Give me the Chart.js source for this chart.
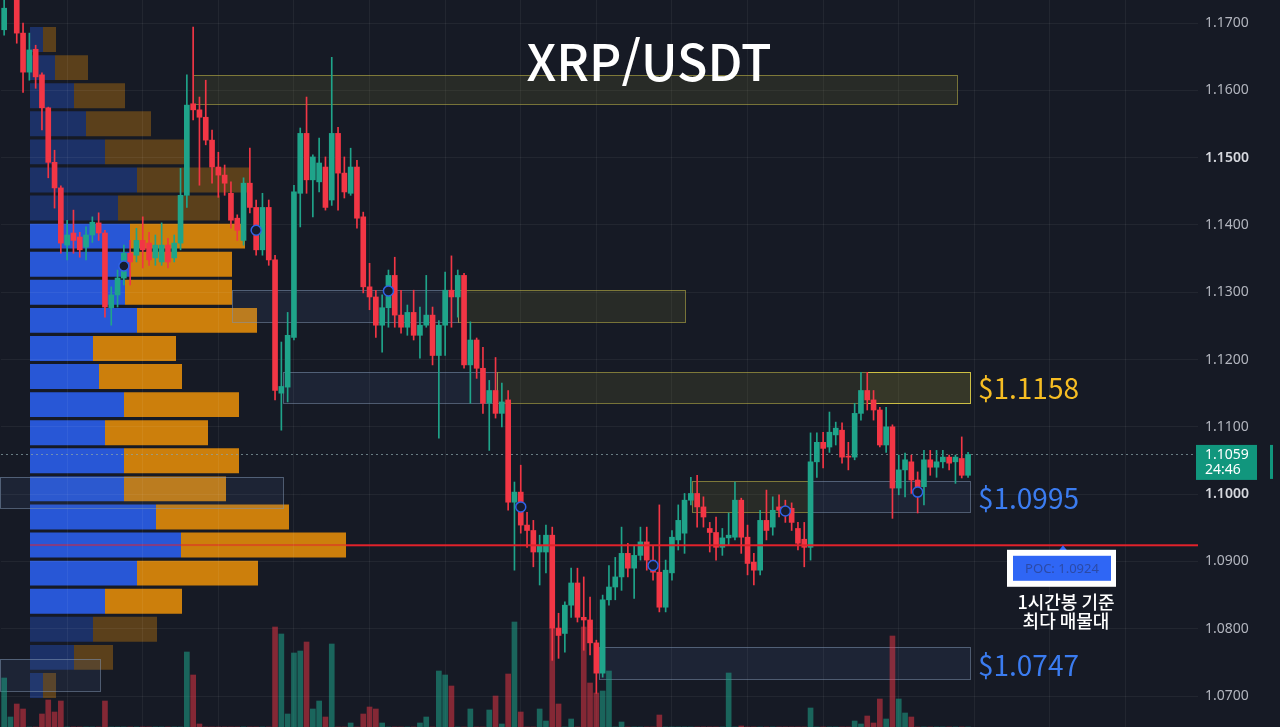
<!DOCTYPE html>
<html lang="ko">
<head>
<meta charset="UTF-8">
<title>XRP/USDT 1시간봉</title>
<script src="https://cdn.jsdelivr.net/npm/chart.js@4.4.1/dist/chart.umd.min.js"></script>
<style>
    html, body { margin: 0; padding: 0; background: #161a25; overflow: hidden; }
    #wrap { position: relative; width: 1280px; height: 727px; }
    #wrap canvas { position: absolute; left: 0; top: 0; }
</style>
</head>
<body>
<div id="wrap">
    <canvas id="profile-chart" width="1280" height="727"></canvas>
    <canvas id="price-chart" width="1280" height="727"></canvas>
</div>
<script>
// --- 캔들 (1시간봉) ---
const opens = [
    1.1690, 1.1741, 1.1741, 1.1685, 1.1627, 1.1661, 1.1623, 1.1574, 1.1493, 1.1455,
    1.1370, 1.1388, 1.1382, 1.1367, 1.1385, 1.1403, 1.1388, 1.1277, 1.1296, 1.1321,
    1.1358, 1.1355, 1.1377, 1.1373, 1.1351, 1.1345, 1.1370, 1.1351, 1.1373, 1.1444,
    1.1580, 1.1571, 1.1560, 1.1526, 1.1486, 1.1474, 1.1447, 1.1410, 1.1377, 1.1462,
    1.1426, 1.1363, 1.1426, 1.1348, 1.1150, 1.1159, 1.1233, 1.1447, 1.1536, 1.1467,
    1.1464, 1.1486, 1.1437, 1.1536, 1.1477, 1.1447, 1.1486, 1.1412, 1.1308, 1.1293,
    1.1251, 1.1277, 1.1325, 1.1266, 1.1248, 1.1270, 1.1236, 1.1251, 1.1266, 1.1206,
    1.1251, 1.1303, 1.1293, 1.1325, 1.1192, 1.1229, 1.1187, 1.1135, 1.1154, 1.1120,
    1.1140, 1.0988, 1.1003, 1.0954, 1.0946, 1.0914, 1.0914, 1.0939, 1.0801, 1.0793,
    1.0835, 1.0868, 1.0817, 1.0813, 1.0779, 1.0734, 1.0843, 1.0862, 1.0877, 1.0912,
    1.0890, 1.0909, 1.0929, 1.0902, 1.0884, 1.0832, 1.0883, 1.0932, 1.0942, 1.0991,
    1.1001, 1.0981, 1.0949, 1.0943, 1.0921, 1.0935, 1.0936, 1.0991, 1.0936, 1.0899,
    1.0887, 1.0961, 1.0951, 1.0981, 1.0979, 1.0979, 1.0949, 1.0933, 1.0921, 1.1048,
    1.1077, 1.1070, 1.1088, 1.1095, 1.1056, 1.1055, 1.1120, 1.1154, 1.1140, 1.1125,
    1.1073, 1.1100, 1.1009, 1.1036, 1.1048, 1.1021, 1.1011, 1.1051, 1.1040, 1.1048,
    1.1055, 1.1048, 1.1053, 1.1028
];
const highs = [
    1.1741, 1.1764, 1.1756, 1.1700, 1.1685, 1.1667, 1.1626, 1.1575, 1.1511, 1.1458,
    1.1407, 1.1422, 1.1389, 1.1397, 1.1412, 1.1418, 1.1392, 1.1308, 1.1333, 1.1370,
    1.1377, 1.1395, 1.1412, 1.1389, 1.1385, 1.1403, 1.1380, 1.1385, 1.1484, 1.1623,
    1.1694, 1.1590, 1.1615, 1.1541, 1.1508, 1.1489, 1.1464, 1.1415, 1.1470, 1.1514,
    1.1437, 1.1447, 1.1437, 1.1355, 1.1226, 1.1270, 1.1459, 1.1544, 1.1590, 1.1504,
    1.1529, 1.1501, 1.1649, 1.1545, 1.1501, 1.1514, 1.1496, 1.1419, 1.1343, 1.1303,
    1.1296, 1.1333, 1.1352, 1.1303, 1.1281, 1.1303, 1.1278, 1.1325, 1.1278, 1.1258,
    1.1330, 1.1354, 1.1333, 1.1328, 1.1256, 1.1232, 1.1218, 1.1169, 1.1203, 1.1165,
    1.1154, 1.1018, 1.1043, 1.0973, 1.0961, 1.0939, 1.0954, 1.0951, 1.0823, 1.0840,
    1.0890, 1.0890, 1.0877, 1.0847, 1.0783, 1.0850, 1.0894, 1.0906, 1.0951, 1.0927,
    1.0924, 1.0951, 1.0951, 1.0924, 1.0984, 1.0902, 1.0946, 1.0984, 1.1001, 1.1025,
    1.1028, 1.0996, 1.0958, 1.0966, 1.0949, 1.0972, 1.1018, 1.0994, 1.0954, 1.0912,
    1.0976, 1.1006, 1.0996, 1.0999, 1.0991, 1.0987, 1.0958, 1.0958, 1.1091, 1.1091,
    1.1092, 1.1122, 1.1107, 1.1106, 1.1077, 1.1135, 1.1181, 1.1181, 1.1154, 1.1129,
    1.1129, 1.1103, 1.1058, 1.1061, 1.1058, 1.1033, 1.1065, 1.1065, 1.1065, 1.1065,
    1.1058, 1.1058, 1.1085, 1.1062
];
const lows = [
    1.1682, 1.1737, 1.1670, 1.1597, 1.1615, 1.1603, 1.1541, 1.1470, 1.1425, 1.1358,
    1.1348, 1.1358, 1.1352, 1.1348, 1.1374, 1.1377, 1.1263, 1.1251, 1.1278, 1.1311,
    1.1311, 1.1345, 1.1336, 1.1340, 1.1340, 1.1340, 1.1336, 1.1345, 1.1363, 1.1426,
    1.1556, 1.1459, 1.1519, 1.1462, 1.1441, 1.1444, 1.1395, 1.1377, 1.1370, 1.1418,
    1.1355, 1.1355, 1.1340, 1.1140, 1.1095, 1.1137, 1.1229, 1.1397, 1.1447, 1.1412,
    1.1449, 1.1422, 1.1429, 1.1422, 1.1440, 1.1444, 1.1395, 1.1299, 1.1274, 1.1233,
    1.1211, 1.1248, 1.1248, 1.1239, 1.1236, 1.1229, 1.1202, 1.1248, 1.1192, 1.1083,
    1.1206, 1.1248, 1.1263, 1.1187, 1.1135, 1.1172, 1.1120, 1.1065, 1.1113, 1.1100,
    1.0976, 1.0887, 1.0942, 1.0921, 1.0892, 1.0865, 1.0883, 1.0753, 1.0756, 1.0765,
    1.0817, 1.0810, 1.0768, 1.0761, 1.0704, 1.0728, 1.0835, 1.0843, 1.0857, 1.0877,
    1.0845, 1.0902, 1.0887, 1.0872, 1.0825, 1.0825, 1.0872, 1.0917, 1.0912, 1.0984,
    1.0951, 1.0951, 1.0914, 1.0902, 1.0909, 1.0924, 1.0932, 1.0912, 1.0880, 1.0865,
    1.0880, 1.0932, 1.0939, 1.0966, 1.0958, 1.0946, 1.0917, 1.0892, 1.0902, 1.1025,
    1.1039, 1.1062, 1.1073, 1.1046, 1.1036, 1.1051, 1.1110, 1.1125, 1.1110, 1.1070,
    1.1062, 1.0964, 1.0999, 1.0996, 1.1001, 1.0972, 1.0984, 1.1028, 1.1025, 1.1039,
    1.1036, 1.1016, 1.1024, 1.1025
];
const closes = [
    1.1722, 1.1756, 1.1685, 1.1627, 1.1660, 1.1620, 1.1574, 1.1493, 1.1455, 1.1373,
    1.1385, 1.1377, 1.1363, 1.1385, 1.1404, 1.1388, 1.1278, 1.1296, 1.1321, 1.1358,
    1.1345, 1.1377, 1.1363, 1.1348, 1.1370, 1.1370, 1.1345, 1.1373, 1.1444, 1.1578,
    1.1571, 1.1560, 1.1526, 1.1486, 1.1474, 1.1462, 1.1407, 1.1392, 1.1462, 1.1426,
    1.1363, 1.1426, 1.1348, 1.1154, 1.1160, 1.1236, 1.1449, 1.1536, 1.1467, 1.1501,
    1.1492, 1.1426, 1.1536, 1.1477, 1.1449, 1.1486, 1.1410, 1.1308, 1.1293, 1.1251,
    1.1277, 1.1325, 1.1266, 1.1248, 1.1270, 1.1236, 1.1251, 1.1266, 1.1206, 1.1251,
    1.1303, 1.1293, 1.1325, 1.1192, 1.1229, 1.1187, 1.1135, 1.1154, 1.1120, 1.1137,
    1.0988, 1.1003, 1.0954, 1.0946, 1.0914, 1.0924, 1.0939, 1.0801, 1.0790, 1.0835,
    1.0868, 1.0817, 1.0813, 1.0779, 1.0734, 1.0843, 1.0862, 1.0877, 1.0912, 1.0890,
    1.0909, 1.0929, 1.0902, 1.0884, 1.0832, 1.0887, 1.0936, 1.0961, 1.0991, 1.1001,
    1.0981, 1.0966, 1.0943, 1.0921, 1.0935, 1.0939, 1.0991, 1.0936, 1.0897, 1.0887,
    1.0961, 1.0946, 1.0976, 1.0976, 1.0969, 1.0958, 1.0927, 1.0921, 1.1048, 1.1077,
    1.1068, 1.1092, 1.1098, 1.1055, 1.1055, 1.1120, 1.1154, 1.1140, 1.1125, 1.1073,
    1.1100, 1.1009, 1.1036, 1.1051, 1.1021, 1.1003, 1.1051, 1.1040, 1.1048, 1.1055,
    1.1046, 1.1055, 1.1028, 1.1059
];
// 거래량 (백만 XRP, 화면에 보이는 부분만)
const volumes = [
    4.9, 1.0, 2.3, 1.8, 0, 0, 1.3, 2.7, 1.5, 2.6,
    0, 0, 0, 0, 0, 0, 2.6, 0, 0, 0,
    0, 0, 0, 0, 0, 0, 0, 0, 0, 7.5,
    5.2, 0.3, 0, 0, 0, 0, 0, 0, 0, 0,
    0, 0, 0, 10.0, 9.3, 1.3, 7.4, 7.6, 8.5, 1.8,
    2.6, 1.0, 8.3, 0, 0, 0.4, 0, 1.3, 2.0, 1.8,
    0.4, 0, 0, 0, 0, 0, 0.4, 1.0, 0, 5.6,
    5.2, 4.1, 0, 0, 1.8, 0, 0, 1.7, 3.1, 0.3,
    5.3, 10.5, 1.5, 0, 0, 1.8, 0.6, 9.9, 2.3, 0,
    0.8, 0, 10.0, 4.4, 3.4, 3.6, 5.6, 0, 0.5, 0,
    0, 0, 0, 0, 1.2, 0, 0, 0, 0, 0,
    0, 0, 0, 0, 0, 5.4, 0, 0.1, 0, 0,
    0, 0, 0, 0, 0, 0, 0, 0, 1.9, 0,
    0, 0, 0, 0, 0, 0.6, 0.3, 1.1, 0.4, 2.8,
    0.8, 9.1, 2.8, 1.4, 1.0, 0, 0, 0, 0, 0,
    0, 0, 0, 0
];

// --- 매물대 (볼륨 프로파일) ---
const profileLevels = [
    1.1676, 1.1634, 1.1592, 1.1550, 1.1509, 1.1467, 1.1425, 1.1384,
    1.1342, 1.1300, 1.1258, 1.1217, 1.1175, 1.1133, 1.1091, 1.1050,
    1.1008, 1.0966, 1.0924, 1.0883, 1.0841, 1.0799, 1.0758, 1.0716
];
const profileBuy = [
    6.5, 12.5, 22, 28, 37.5, 53.5, 44, 50,
    50, 47.5, 53.5, 31.5, 34.5, 47, 37.5, 47,
    47, 63, 75.5, 53.5, 37.5, 31.5, 22, 6.5
];
const profileSell = [
    6.5, 16.5, 25.5, 32.5, 40, 56.5, 51, 57.5,
    51, 53.5, 60, 41.5, 41.5, 57.5, 51.5, 57.5,
    51, 66.5, 82.5, 60.5, 38.5, 32, 19.5, 6.5
];
const valueAreaHigh = 1.1384;
const valueAreaLow = 1.0841;

// --- 가격 축 ---
const priceTicks = [1.07, 1.08, 1.09, 1.10, 1.11, 1.12, 1.13, 1.14, 1.15, 1.16, 1.17];
const majorTicks = [1.10, 1.15];
const priceMin = 1.0654;
const priceMax = 1.17342;
const totalSlots = 190;

// --- 지지/저항 박스 (캔들 인덱스 구간) ---
const zoneTop =    [1.1623, 1.1303, 1.1303, 1.1181, 1.1181, 1.1181, 1.1025, 1.1019, 1.1019, 1.0773, 1.0755];
const zoneBottom = [1.1580, 1.1256, 1.1256, 1.1135, 1.1135, 1.1135, 1.0979, 1.0973, 1.0973, 1.0725, 1.0707];
const zoneFrom =   [30, 36.2, 72, 44.3, 78.2, 137, -0.7, 109.2, 128.1, 94.4, -0.7];
const zoneTo =     [151.2, 72, 108.1, 78.2, 153.3, 153.3, 44.3, 128.1, 153.3, 153.3, 15.2];
const zoneKind =   ['supply', 'demand', 'supply', 'demand', 'supply', 'strong', 'demand', 'supply', 'demand', 'demand', 'demand'];

const labelPrices = [1.1158, 1.0995, 1.0747];
const labelTexts = ['$1.1158', '$1.0995', '$1.0747'];
const labelKind = ['supply', 'demand', 'demand'];

const markerIdx = [19, 40, 61, 82, 103, 124, 145];
const markerPrice = [1.1339, 1.1392, 1.1302, 1.0981, 1.0894, 1.0975, 1.1003];

const pocPrice = 1.0924;
const countdown = '24:46';

document.addEventListener('DOMContentLoaded', () => {
    const UP = '#1fa48a';
    const DOWN = '#f23645';
    const GRID = 'rgba(255,255,255,0.055)';
    const KR = '"Noto Sans CJK KR", "Noto Sans", sans-serif';

    const isUp = closes.map((c, i) => c >= opens[i]);
    const candleColor = i => (isUp[i] ? UP : DOWN);
    const isMajor = c => !!(c && c.tick) && majorTicks.some(m => Math.abs(c.tick.value - m) < 1e-6);

    // --- 매물대 차트 (뒤쪽 캔버스) ---
    const inValueArea = i => profileLevels[i] <= valueAreaHigh + 1e-9 && profileLevels[i] >= valueAreaLow - 1e-9;
    const totals = profileBuy.map((b, i) => b + profileSell[i]);
    const pocRow = totals.indexOf(Math.max(...totals));

    const pocSegment = {
        id: 'pocSegment',
        afterDatasetsDraw(chart) {
            const { ctx, scales: { x, y } } = chart;
            const yp = y.getPixelForValue(pocRow);
            ctx.save();
            ctx.fillStyle = 'rgba(226,34,43,0.5)';
            ctx.fillRect(x.getPixelForValue(0), yp - 1, x.getPixelForValue(totals[pocRow]) - x.getPixelForValue(0), 2);
            ctx.restore();
        }
    };

    const profileChart = new Chart(document.getElementById('profile-chart'), {
        type: 'bar',
        data: {
            labels: profileLevels,
            datasets: [
                {
                    label: '매수',
                    data: profileBuy,
                    backgroundColor: c => (inValueArea(c.dataIndex) ? '#2857d6' : 'rgba(40,87,214,0.38)'),
                    barPercentage: 0.89,
                    categoryPercentage: 1
                },
                {
                    label: '매도',
                    data: profileSell,
                    backgroundColor: c => (inValueArea(c.dataIndex) ? '#cc7f0c' : 'rgba(204,127,12,0.38)'),
                    barPercentage: 0.89,
                    categoryPercentage: 1
                }
            ]
        },
        options: {
            indexAxis: 'y',
            responsive: false,
            animation: false,
            layout: { autoPadding: false, padding: { left: 30, top: 25.5, bottom: 27.5, right: 650 } },
            plugins: { legend: { display: false }, tooltip: { enabled: false } },
            scales: {
                x: { stacked: true, display: false, min: 0, max: 300 },
                y: { stacked: true, display: false }
            }
        },
        plugins: [pocSegment]
    });

    // --- 박스, 라벨, POC, 현재가 ---
    const zoneStyles = {
        supply: { fill: 'rgba(150,140,55,0.15)', stroke: 'rgba(185,175,70,0.6)' },
        strong: { fill: 'rgba(160,150,50,0.12)', stroke: 'rgba(220,205,70,0.85)' },
        demand: { fill: 'rgba(80,110,160,0.13)', stroke: 'rgba(125,145,175,0.55)' }
    };
    const labelColors = { supply: '#f6bd23', demand: '#3b7cf0' };

    const overlay = {
        id: 'overlay',
        beforeDatasetsDraw(chart) {
            const { ctx, chartArea, scales: { x, y } } = chart;
            ctx.save();
            zoneTop.forEach((top, k) => {
                const st = zoneStyles[zoneKind[k]];
                const x1 = Math.round(x.getPixelForValue(zoneFrom[k]));
                const x2 = Math.round(x.getPixelForValue(zoneTo[k]));
                const y1 = Math.round(y.getPixelForValue(top));
                const y2 = Math.round(y.getPixelForValue(zoneBottom[k]));
                ctx.fillStyle = st.fill;
                ctx.fillRect(x1, y1, x2 - x1, y2 - y1);
                ctx.strokeStyle = st.stroke;
                ctx.lineWidth = 1;
                ctx.strokeRect(x1 + 0.5, y1 + 0.5, x2 - x1, y2 - y1);
            });

            // 현재가 점선
            const yc = Math.round(y.getPixelForValue(closes[closes.length - 1])) + 0.5;
            ctx.setLineDash([2, 3]);
            ctx.strokeStyle = 'rgba(140,165,170,0.7)';
            ctx.beginPath();
            ctx.moveTo(chartArea.left, yc);
            ctx.lineTo(chartArea.right, yc);
            ctx.stroke();
            ctx.restore();
        },
        afterDatasetsDraw(chart) {
            const { ctx, chartArea, scales: { x, y } } = chart;
            ctx.save();

            // POC 라인
            const yp = y.getPixelForValue(pocPrice);
            const px = profileChart.scales.x.getPixelForValue(totals[pocRow]);
            ctx.fillStyle = '#e2222b';
            ctx.fillRect(px, yp - 1, chartArea.right - px, 2);

            // 제목
            ctx.fillStyle = '#ffffff';
            ctx.font = `500 50px ${KR}`;
            ctx.textAlign = 'center';
            ctx.textBaseline = 'alphabetic';
            ctx.fillText('XRP/USDT', 649, 81);

            // 가격 라벨
            const lx = x.getPixelForValue(153.3) + 8;
            ctx.font = `400 28px ${KR}`;
            ctx.textAlign = 'left';
            ctx.textBaseline = 'middle';
            labelTexts.forEach((t, k) => {
                ctx.fillStyle = labelColors[labelKind[k]];
                ctx.fillText(t, lx, y.getPixelForValue(labelPrices[k]) + 1);
            });

            // POC 박스
            const cx = chartArea.right - 136;
            ctx.fillStyle = '#2f66f5';
            ctx.beginPath();
            ctx.moveTo(cx - 3, yp + 5);
            ctx.lineTo(cx + 5, yp + 5);
            ctx.lineTo(cx + 1, yp);
            ctx.closePath();
            ctx.fill();
            ctx.fillStyle = '#ffffff';
            ctx.fillRect(cx - 55, yp + 4.5, 109, 37);
            ctx.fillStyle = '#2f66f5';
            ctx.fillRect(cx - 49, yp + 10.5, 98, 25);
            ctx.fillStyle = '#2c4aa6';
            ctx.font = '400 13px "Noto Sans", sans-serif';
            ctx.textAlign = 'center';
            ctx.fillText('POC: ' + pocPrice.toFixed(4), cx, yp + 24);

            ctx.fillStyle = '#ffffff';
            ctx.font = `500 18px ${KR}`;
            ctx.fillText('1시간봉 기준', cx + 4, yp + 57);
            ctx.fillText('최다 매물대', cx + 4, yp + 76);

            // 현재가 박스 (오른쪽 축)
            const yc = y.getPixelForValue(closes[closes.length - 1]);
            ctx.fillStyle = '#11967d';
            ctx.fillRect(chartArea.right - 2, yc - 9.5, 61, 35);
            ctx.fillRect(1270, yc - 9.5, 3, 34);
            ctx.fillStyle = '#ffffff';
            ctx.font = '400 14px "Noto Sans", sans-serif';
            ctx.textAlign = 'left';
            ctx.fillText(closes[closes.length - 1].toFixed(4), chartArea.right + 7, yc + 1);
            ctx.fillText(countdown, chartArea.right + 7, yc + 16);
            ctx.restore();
        }
    };

    // --- 메인 가격 차트 ---
    const slots = Array.from({ length: totalSlots }, (_, i) => i);
    const markerData = opens.map(() => null);
    markerIdx.forEach((m, k) => { markerData[m] = markerPrice[k]; });

    new Chart(document.getElementById('price-chart'), {
        type: 'bar',
        data: {
            labels: slots,
            datasets: [
                {
                    label: '신호',
                    type: 'line',
                    data: markerData,
                    showLine: false,
                    pointRadius: 5,
                    pointBorderWidth: 1.5,
                    pointBorderColor: '#2f62e6',
                    pointBackgroundColor: '#161c2e',
                    order: 0
                },
                {
                    label: '몸통',
                    data: opens.map((o, i) => [o, closes[i]]),
                    backgroundColor: c => candleColor(c.dataIndex),
                    barThickness: 5,
                    minBarLength: 1,
                    grouped: false,
                    order: 1
                },
                {
                    label: '꼬리',
                    data: lows.map((l, i) => [l, highs[i]]),
                    backgroundColor: c => candleColor(c.dataIndex),
                    barThickness: 1,
                    grouped: false,
                    order: 2
                },
                {
                    label: '거래량',
                    data: volumes,
                    yAxisID: 'yv',
                    backgroundColor: c => (isUp[c.dataIndex] ? 'rgba(31,164,138,0.55)' : 'rgba(242,54,69,0.5)'),
                    barThickness: 5,
                    grouped: false,
                    order: 3
                }
            ]
        },
        options: {
            responsive: false,
            animation: false,
            layout: { autoPadding: false, padding: { left: 1, right: 0, top: 0, bottom: 0 } },
            plugins: { legend: { display: false }, tooltip: { enabled: false } },
            scales: {
                x: {
                    offset: true,
                    grid: {
                        offset: false,
                        drawTicks: false,
                        color: c => (c.index % 12 === 10 ? GRID : 'transparent')
                    },
                    border: { display: false },
                    ticks: { display: false, autoSkip: false },
                    afterFit: s => {
                        s.height = 0;
                        s.paddingLeft = 0;
                        s.paddingRight = 0;
                    }
                },
                y: {
                    position: 'right',
                    min: priceMin,
                    max: priceMax,
                    afterBuildTicks: s => { s.ticks = priceTicks.map(v => ({ value: v })); },
                    afterFit: s => {
                        s.width = 82;
                        s.paddingTop = 0;
                        s.paddingBottom = 0;
                    },
                    grid: { color: GRID, drawTicks: false },
                    border: { display: false },
                    ticks: {
                        padding: 7,
                        color: c => (isMajor(c) ? '#d6d8de' : '#b2b5be'),
                        font: c => ({
                            family: '"Noto Sans", sans-serif',
                            size: 14,
                            weight: isMajor(c) ? '600' : '400'
                        }),
                        callback: v => Number(v).toFixed(4)
                    }
                },
                yv: { display: false, min: 0, max: 72.7 }
            }
        },
        plugins: [overlay]
    });
});
</script>
</body>
</html>
